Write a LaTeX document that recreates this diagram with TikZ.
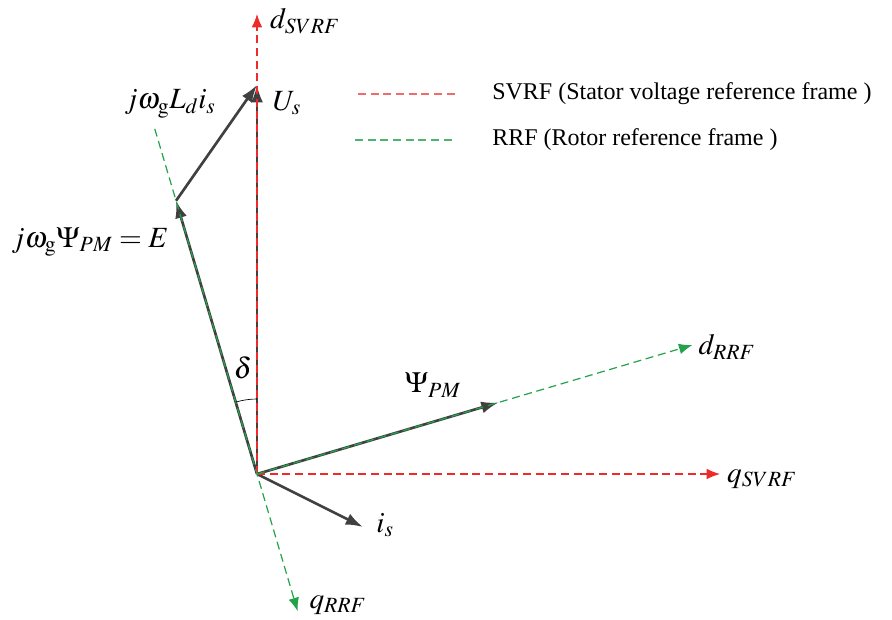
\documentclass[tikz,border=0pt]{standalone}
\usepackage{mathptmx}
\usepackage{fontspec}
\setmainfont{Liberation Serif}
\usetikzlibrary{arrows.meta}

\definecolor{vecgray}{HTML}{404040}
\definecolor{svrfred}{HTML}{EE2A2A}
\definecolor{rrfgreen}{HTML}{22A24A}

\begin{document}
\begin{tikzpicture}[x=0.75pt, y=0.75pt,
    every node/.style={font=\fontsize{22}{26}\selectfont, inner sep=0pt},
    vec/.style={draw=vecgray, line width=2pt, -{Latex[length=13pt, width=9pt]}},
    svrf/.style={draw=svrfred, line width=0.9pt, dash pattern=on 6pt off 3.5pt},
    rrf/.style={draw=rrfgreen, line width=0.9pt, dash pattern=on 6pt off 3.5pt},
    axtip/.style={-{Latex[length=10pt, width=8pt]}},
    legend/.style={font=\fontsize{18}{22}\selectfont, anchor=west}]
  \useasboundingbox (0,0) rectangle (892,619);

  % points of the diagram
  \coordinate (O) at (257,145);
  \coordinate (dS) at (257,605);
  \coordinate (qS) at (720,145);
  \coordinate (Us) at (257,534);
  \coordinate (E) at ([shift={(106.5:285)}]O);
  \coordinate (ext) at ([shift={(106.5:360)}]O);
  \coordinate (Psi) at ([shift={(16.5:252)}]O);
  \coordinate (dR) at ([shift={(16.5:454)}]O);
  \coordinate (qR) at ([shift={(-73.5:143)}]O);
  \coordinate (is) at (363,92);

  % vectors
  \draw[vec] (O) -- (Us);
  \draw[vec] (O) -- (E);
  \draw[vec] (E) -- (Us);
  \draw[vec] (O) -- (Psi);
  \draw[vec] (O) -- (is);

  % frames
  \draw[svrf, axtip] (O) -- (dS);
  \draw[svrf, axtip] (O) -- (qS);
  \draw[rrf, axtip] (ext) -- (qR);
  \draw[rrf, axtip] (O) -- (dR);

  % angle
  \draw[line width=0.5pt] (O) ++(90:56.25pt) arc[start angle=90, end angle=106.5, radius=56.25pt];

  % labels
  \node (ldS) at (305,598) {$d_{SVRF}$};
  \node (lUs) at (287,516) {$U_s$};
  \node (lLd) at (170,515) {$j\omega_{\mathrm{g}}L_d i_s$};
  \node (lE) at (90,377) {$j\omega_{\mathrm{g}}\Psi_{PM}=E$};
  \node (ldelta) at (243,251) {$\delta$};
  \node (lPsi) at (433,234) {$\Psi_{PM}$};
  \node (ldR) at (727,272) {$d_{RRF}$};
  \node (lqS) at (762,140) {$q_{SVRF}$};
  \node (lis) at (385,94) {$i_s$};
  \node (lqR) at (338,14) {$q_{RRF}$};

  % legend
  \coordinate (lg1a) at (358,525);
  \coordinate (lg1b) at (458,525);
  \coordinate (lg2a) at (355,479);
  \coordinate (lg2b) at (455,479);
  \draw[svrf, draw=svrfred!70] (lg1a) -- (lg1b);
  \draw[rrf, draw=rrfgreen!80] (lg2a) -- (lg2b);
  \node[legend] (t1) at (492,525) {SVRF (Stator voltage reference frame )};
  \node[legend] (t2) at (492,479) {RRF (Rotor reference frame )};
\end{tikzpicture}
\end{document}
